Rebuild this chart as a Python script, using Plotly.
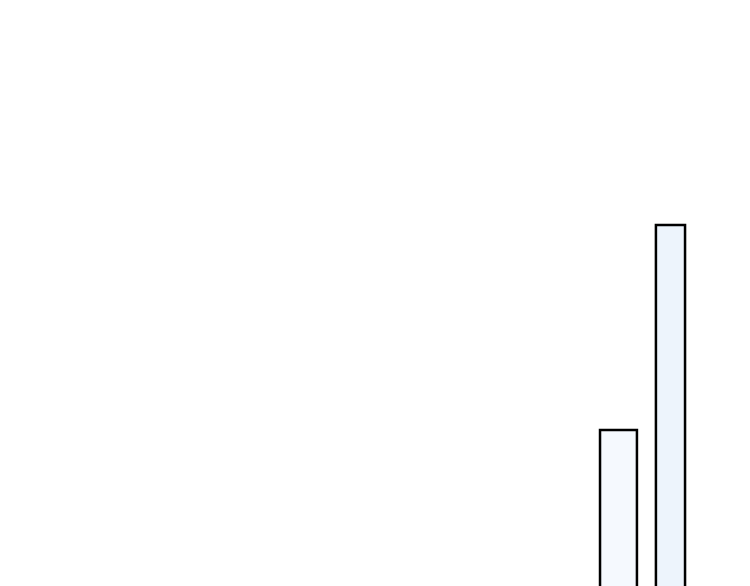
import plotly.graph_objects as go

# two visible bars, bottoms run past the lower edge of the picture
categories = ["A", "B"]
values = [1.78, 3.83]
bar_widths = [0.71, 0.56]
fill_colors = ["#f5f9fe", "#edf4fc"]

fig = go.Figure()
fig.add_trace(go.Bar(
    x=[0, 1],
    y=values,
    width=bar_widths,
    marker=dict(color=fill_colors, line=dict(color="black", width=2.5)),
    hoverinfo="skip",
))

fig.update_layout(
    width=750, height=586,
    margin=dict(l=0, r=0, t=0, b=0),
    paper_bgcolor="white", plot_bgcolor="white",
    showlegend=False,
    xaxis=dict(range=[-11.740, 2.683], visible=False),
    yaxis=dict(range=[0.14, 6.0], visible=False),
)

fig.write_html("out.html")
